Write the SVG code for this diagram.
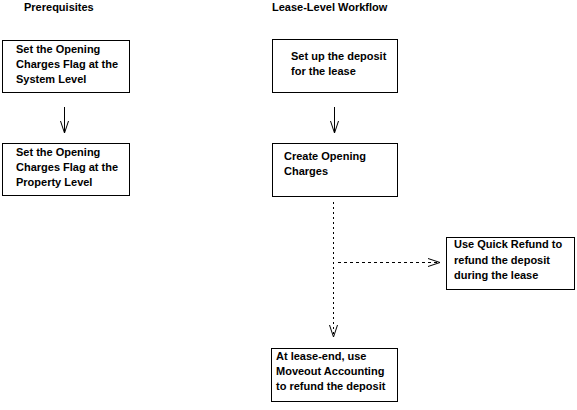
<svg xmlns="http://www.w3.org/2000/svg" width="577" height="410" viewBox="0 0 577 410">
<defs>
<marker id="v" markerWidth="14" markerHeight="10" refX="13" refY="5" orient="auto" markerUnits="userSpaceOnUse">
<path d="M1,1 L13,5 L1,9" fill="none" stroke="#000" stroke-width="1"/>
</marker>
<style>
rect{fill:#fff;stroke:#000;stroke-width:1}
text{font-family:"Liberation Sans",Arial,sans-serif;font-size:11px;font-weight:bold;fill:#000}
.c{stroke:#000;stroke-width:1;fill:none}
.d{stroke-dasharray:2,3}
.h{stroke-dasharray:3,3}
</style>
</defs>
<text x="24" y="11">Prerequisites</text>
<text x="272" y="11">Lease-Level Workflow</text>
<g id="n1"><rect x="2.5" y="40.5" width="127" height="52"/><text x="16" y="53">Set the Opening</text><text x="16" y="68">Charges Flag at the</text><text x="16" y="83">System Level</text></g>
<g id="n2"><rect x="2.5" y="143.5" width="127" height="52"/><text x="16" y="156">Set the Opening</text><text x="16" y="171">Charges Flag at the</text><text x="16" y="186">Property Level</text></g>
<g id="n3"><rect x="272.5" y="39.5" width="125" height="53"/><text x="291" y="60">Set up the deposit</text><text x="291" y="75">for the lease</text></g>
<g id="n4"><rect x="272.5" y="143.5" width="125" height="53"/><text x="284" y="160">Create Opening</text><text x="284" y="175">Charges</text></g>
<g id="n5"><rect x="446.5" y="237.5" width="128" height="52"/><text x="454" y="248">Use Quick Refund to</text><text x="454" y="264">refund the deposit</text><text x="454" y="279">during the lease</text></g>
<g id="n6"><rect x="271.5" y="348.5" width="126" height="53"/><text x="276" y="360">At lease-end, use</text><text x="276" y="375">Moveout Accounting</text><text x="276" y="390">to refund the deposit</text></g>
<g id="connectors">
<line class="c" x1="64.5" y1="107" x2="64.5" y2="133" marker-end="url(#v)"/>
<line class="c" x1="334.5" y1="107" x2="334.5" y2="133" marker-end="url(#v)"/>
<line class="c d" x1="333.5" y1="202" x2="333.5" y2="337" marker-end="url(#v)"/>
<line class="c h" x1="338" y1="262.5" x2="440" y2="262.5" marker-end="url(#v)"/>
</g>
</svg>
